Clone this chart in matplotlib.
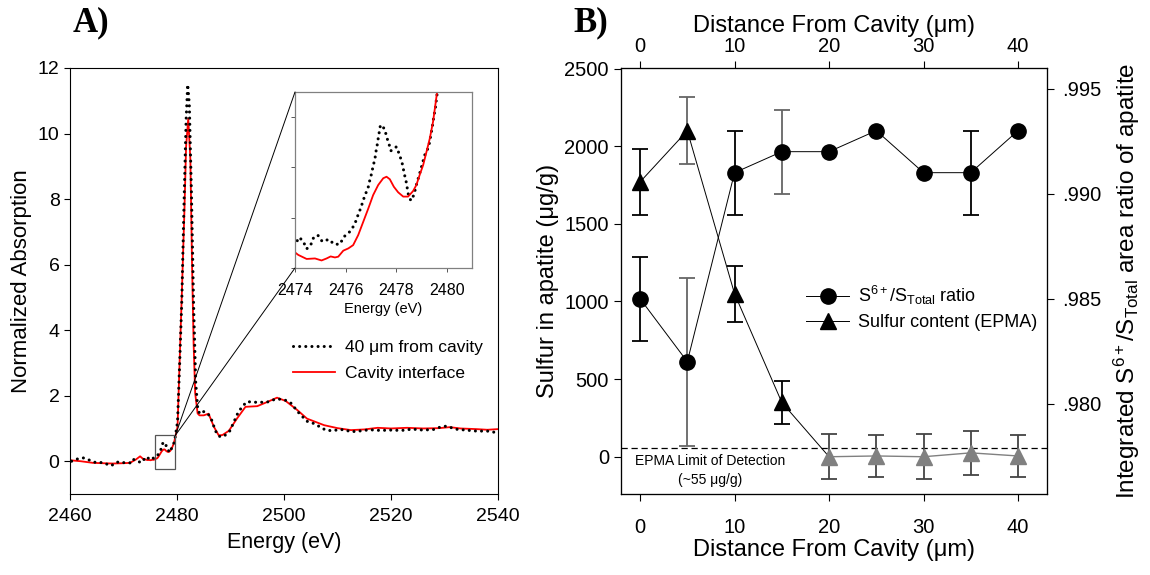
import matplotlib
matplotlib.use('Agg')
import matplotlib.pyplot as plt
from matplotlib.lines import Line2D
from matplotlib.patches import Rectangle, ConnectionPatch
from matplotlib.ticker import FuncFormatter

plt.rcParams['font.family'] = ['Liberation Sans', 'DejaVu Sans']
plt.rcParams['mathtext.fontset'] = 'custom'
plt.rcParams['mathtext.rm'] = 'Liberation Sans'
plt.rcParams['mathtext.it'] = 'Liberation Sans'
plt.rcParams['mathtext.bf'] = 'Liberation Sans:bold'

# ---------------- Panel A data ----------------
energy_far = [2460.3, 2461.4, 2462.5, 2463.7, 2464.8, 2465.9, 2466.6, 2467.2, 2467.8, 2468.5,
              2469.2, 2470.3, 2471.2, 2471.7, 2472.5, 2473.4,
              2474.00, 2474.17, 2474.33, 2474.46, 2474.62, 2474.72, 2474.90, 2475.08, 2475.34,
              2475.55, 2475.78, 2475.93, 2476.13, 2476.30, 2476.41, 2476.50, 2476.61, 2476.70,
              2476.80, 2476.90, 2476.96, 2477.03, 2477.09, 2477.16, 2477.20, 2477.25, 2477.29,
              2477.38, 2477.55, 2477.62, 2477.71, 2477.79, 2478.01, 2478.14, 2478.25, 2478.32,
              2478.41, 2478.47, 2478.58, 2478.70, 2478.80, 2478.93, 2479.04, 2479.13, 2479.26,
              2479.33, 2479.37, 2479.42, 2479.46, 2479.50, 2479.55, 2479.59, 2479.63,
              2480.1, 2480.5, 2480.9, 2481.3, 2481.7, 2482.0, 2482.3, 2482.7, 2483.1, 2483.5,
              2483.9, 2484.3, 2484.8, 2485.3, 2485.8, 2486.5, 2487.2, 2487.9, 2488.7, 2489.9,
              2491.4, 2492.2, 2493.1, 2494.3, 2495.5, 2496.8, 2497.7, 2498.7, 2500.0, 2501.2,
              2502.8, 2504.3, 2505.6, 2507.8, 2509.0, 2510.5, 2511.5, 2512.5, 2514.0, 2516.0,
              2518.0, 2520.0, 2522.0, 2524.0, 2526.0, 2528.0, 2529.5, 2530.5, 2532.0, 2534.0,
              2536.0, 2538.0, 2539.5]
absorb_far = [0.00, 0.07, 0.10, 0.03, -0.04, -0.04, -0.06, -0.12, -0.13, -0.04,
              -0.02, -0.05, -0.05, 0.07, 0.00, -0.04,
              0.094, 0.122, 0.105, 0.076, 0.091, 0.118, 0.131, 0.105, 0.114,
              0.094, 0.095, 0.124, 0.140, 0.164, 0.187, 0.213, 0.241, 0.270,
              0.297, 0.323, 0.350, 0.376, 0.406, 0.433, 0.462, 0.489, 0.515,
              0.569, 0.553, 0.522, 0.496, 0.466, 0.482, 0.449, 0.412, 0.376,
              0.337, 0.297, 0.268, 0.290, 0.330, 0.376, 0.416, 0.449, 0.476,
              0.502, 0.529, 0.555, 0.582, 0.608, 0.635, 0.668, 0.701,
              1.2, 3.0, 4.9, 7.8, 10.4, 11.5, 10.9, 8.2, 4.8, 2.4,
              1.55, 1.45, 1.52, 1.50, 1.45, 1.25, 0.92, 0.76, 0.75, 0.93,
              1.48, 1.67, 1.82, 1.80, 1.80, 1.80, 1.86, 1.90, 1.88, 1.79,
              1.47, 1.22, 1.15, 0.95, 0.93, 0.97, 0.95, 0.90, 0.92, 0.96,
              0.94, 0.95, 0.94, 0.98, 0.95, 0.97, 1.06, 1.07, 0.98, 0.95,
              0.92, 0.92, 0.88]

energy_cav = [2460.0, 2462.0, 2464.3, 2466.0, 2468.0, 2470.0, 2471.2, 2472.3, 2473.1, 2473.6,
              2474.00, 2474.13, 2474.46, 2474.79, 2475.05, 2475.25, 2475.41, 2475.58, 2475.71,
              2475.91, 2476.11, 2476.30, 2476.50, 2476.70, 2476.90, 2477.09, 2477.29, 2477.49,
              2477.62, 2477.75, 2477.91, 2478.08, 2478.28, 2478.47, 2478.67, 2478.80, 2478.93,
              2479.07, 2479.20, 2479.33, 2479.46, 2479.55, 2479.62,
              2480.1, 2480.5, 2480.9, 2481.4, 2481.7, 2482.1, 2482.5, 2482.8, 2483.1, 2483.4,
              2483.85, 2484.2, 2485.0, 2485.9, 2486.9, 2487.8, 2488.5, 2489.7, 2491.2, 2492.8,
              2495.0, 2496.9, 2498.7, 2500.3, 2502.5, 2504.3, 2507.5, 2510.0, 2512.5, 2515.0,
              2517.5, 2520.0, 2523.0, 2526.0, 2529.0, 2531.0, 2533.0, 2536.0, 2538.0, 2540.0]
absorb_cav = [0.03, 0.00, -0.05, -0.06, -0.07, -0.06, -0.05, 0.05, 0.15, 0.08,
              0.062, 0.052, 0.036, 0.038, 0.030, 0.038, 0.046, 0.042, 0.045,
              0.069, 0.078, 0.091, 0.131, 0.184, 0.237, 0.290, 0.330, 0.357,
              0.363, 0.353, 0.323, 0.301, 0.284, 0.284, 0.306, 0.330, 0.370,
              0.410, 0.462, 0.515, 0.582, 0.648, 0.701,
              1.05, 3.1, 5.1, 7.7, 9.6, 10.46, 9.2, 6.1, 3.6, 2.07,
              1.46, 1.40, 1.40, 1.45, 1.05, 0.79, 0.80, 0.93, 1.30, 1.66,
              1.68, 1.81, 1.94, 1.84, 1.56, 1.30, 1.10, 1.01, 0.95, 0.97,
              1.02, 1.00, 1.02, 1.00, 1.01, 1.04, 1.00, 0.98, 0.96, 0.98]

label_far = '40 \u03bcm from cavity'
label_cav = 'Cavity interface'

# ---------------- Panel B data ----------------
distance = [0, 5, 10, 15, 20, 25, 30, 35, 40]
ratio = [0.985, 0.982, 0.991, 0.992, 0.992, 0.993, 0.991, 0.991, 0.993]
ratio_err = [0.002, 0.004, 0.002, 0.002, 0.0, 0.0, 0.0, 0.002, 0.0]
sulfur = [1770, 2100, 1050, 350, 0, 5, 0, 25, 5]
sulfur_err = [210, 215, 180, 140, 145, 135, 145, 140, 137]
detection_limit = 55
n_above_dl = 4   # first points measured above detection limit

fig = plt.figure(figsize=(11.5, 5.75), dpi=100)
W, H = 1150, 575

def fax(l, t, r, b):
    return [l / W, 1 - b / H, (r - l) / W, (b - t) / H]

# ================= Panel A =================
ax = fig.add_axes(fax(70, 68, 498, 494))
ax.plot(energy_far, absorb_far, color='black', lw=2.2, linestyle=(0, (0.01, 2.0)),
        dash_capstyle='round', label=label_far, zorder=3)
ax.plot(energy_cav, absorb_cav, color='red', lw=1.3, label=label_cav, zorder=2)
ax.set_xlim(2460, 2540)
ax.set_ylim(-1, 12)
ax.set_xticks([2460, 2480, 2500, 2520, 2540])
ax.set_yticks([0, 2, 4, 6, 8, 10, 12])
ax.tick_params(labelsize=14, direction='out', length=4, width=0.8)
ax.tick_params(axis='x', pad=6)
ax.set_xlabel('Energy (eV)', fontsize=15.5, labelpad=5)
ax.set_ylabel('Normalized Absorption', fontsize=16, labelpad=4)
for s in ax.spines.values():
    s.set_linewidth(0.8)
leg = ax.legend(loc='upper left', bbox_to_anchor=(293 / W, 1 - 340 / H),
                bbox_transform=fig.transFigure, frameon=False, fontsize=12.5,
                handlelength=2.4, handletextpad=0.6, borderpad=0, borderaxespad=0,
                labelspacing=0.62)

# zoom box
zx0, zx1, zy0, zy1 = 2475.9, 2479.7, -0.24, 0.79
ax.add_patch(Rectangle((zx0, zy0), zx1 - zx0, zy1 - zy0, fill=False,
                       edgecolor='#555555', lw=0.9, zorder=4))

# inset
axin = fig.add_axes(fax(295, 92, 472, 268))
axin.plot(energy_far, absorb_far, color='black', lw=2.2, linestyle=(0, (0.01, 2.0)),
          dash_capstyle='round')
axin.plot(energy_cav, absorb_cav, color='red', lw=1.3)
axin.set_xlim(2474, 2481)
axin.set_ylim(0, 0.7)
axin.set_xticks([2474, 2476, 2478, 2480])
axin.set_yticks([0, 0.2, 0.4, 0.6])
axin.set_yticklabels([])
axin.tick_params(labelsize=11.5, direction='out', length=3, width=0.7, color='#555555')
axin.tick_params(axis='x', pad=8)
axin.set_xlabel('Energy (eV)', fontsize=10.5, labelpad=3)
for s in axin.spines.values():
    s.set_color('#808080')
    s.set_linewidth(0.9)

for yb in (1, 0):
    con = ConnectionPatch(xyA=(zx1, zy1), coordsA=ax.transData,
                          xyB=(0, yb), coordsB=axin.transAxes,
                          color='black', lw=0.7)
    fig.add_artist(con)

fig.text(91 / W, 1 - 23 / H, 'A)', fontsize=25, fontweight='bold',
         family='Liberation Serif', ha='center', va='center')
fig.text(591 / W, 1 - 23 / H, 'B)', fontsize=25, fontweight='bold',
         family='Liberation Serif', ha='center', va='center')

# ================= Panel B =================
axb = fig.add_axes(fax(620.7, 68.3, 1047.3, 494))
axb.set_xlim(-2.05, 43.1)
axb.set_ylim(-240, 2502)
axb.set_xticks([0, 10, 20, 30, 40])
axb.set_yticks([0, 500, 1000, 1500, 2000, 2500])
axb.tick_params(labelsize=14.5, direction='out', length=5, width=0.8)
axb.tick_params(axis='x', pad=12)
axb.set_xlabel('Distance From Cavity (\u03bcm)', fontsize=17, labelpad=2)
axb.set_ylabel('Sulfur in apatite (\u03bcg/g)', fontsize=17, labelpad=4)

axb.axhline(detection_limit, color='black', lw=0.9, ls=(0, (5, 3)), zorder=1)
axb.text(7.4, -28, 'EPMA Limit of Detection', fontsize=10, ha='center', va='center')
axb.text(7.4, -152, '(~55 \u03bcg/g)', fontsize=10, ha='center', va='center')

gray = '#808080'
# sulfur content line (black segment through first gray point)
axb.plot(distance[:n_above_dl + 1], sulfur[:n_above_dl + 1], color='black', lw=0.7, zorder=3)
axb.plot(distance[n_above_dl:], sulfur[n_above_dl:], color=gray, lw=1.0, zorder=3)
sulf_err_cols = ['black', '#666666', 'black', 'black'] + ['#444444'] * 5
for i, (d, s, e) in enumerate(zip(distance, sulfur, sulfur_err)):
    axb.errorbar(d, s, yerr=e, fmt='none', ecolor=sulf_err_cols[i], elinewidth=1.3,
                 capsize=6, capthick=1.3, zorder=2)
axb.plot(distance[:n_above_dl], sulfur[:n_above_dl], ls='none', marker='^', ms=11,
         color='black', zorder=4)
axb.plot(distance[n_above_dl:], sulfur[n_above_dl:], ls='none', marker='^', ms=11,
         color=gray, zorder=4)

# right axis: ratio
axr = axb.twinx()
axr.set_ylim(0.97570, 0.99597)
axr.set_yticks([0.980, 0.985, 0.990, 0.995])
axr.yaxis.set_major_formatter(FuncFormatter(lambda v, p: ('%.3f' % v)[1:]))
axr.tick_params(labelsize=14.5, direction='out', length=5, width=0.8, pad=6)
axr.set_ylabel(r'Integrated S$^{6+}$/S$_{\mathrm{Total}}$ area ratio of apatite',
               fontsize=17.5, labelpad=7)
axr.plot(distance, ratio, color='black', lw=0.7, zorder=3)
ratio_err_cols = ['black', '#666666', 'black', '#666666', 'black', 'black', 'black', 'black', 'black']
for i, (d, r, e) in enumerate(zip(distance, ratio, ratio_err)):
    if e > 0:
        axr.errorbar(d, r, yerr=e, fmt='none', ecolor=ratio_err_cols[i], elinewidth=1.3,
                     capsize=6, capthick=1.3, zorder=2)
axr.plot(distance, ratio, ls='none', marker='o', ms=11, color='black', zorder=4)

# top axis
axt = axb.twiny()
axt.set_xlim(axb.get_xlim())
axt.set_xticks([0, 10, 20, 30, 40])
axt.tick_params(labelsize=14.5, direction='out', length=5, width=0.8)
axt.set_xlabel('Distance From Cavity (\u03bcm)', fontsize=17, labelpad=4)

for a in (axb, axr, axt):
    for s in a.spines.values():
        s.set_linewidth(0.8)

handles = [Line2D([], [], color='black', lw=0.7, marker='o', ms=11),
           Line2D([], [], color='black', lw=0.7, marker='^', ms=11)]
labels = [r'S$^{6+}$/S$_{\mathrm{Total}}$ ratio', 'Sulfur content (EPMA)']
axt.legend(handles, labels, loc='upper left', bbox_to_anchor=(806 / W, 1 - 284 / H),
           bbox_transform=fig.transFigure, frameon=False, fontsize=13,
           handlelength=2.4, handletextpad=0.5, borderpad=0, borderaxespad=0,
           labelspacing=0.4)

fig.savefig('out.png', dpi=100)
